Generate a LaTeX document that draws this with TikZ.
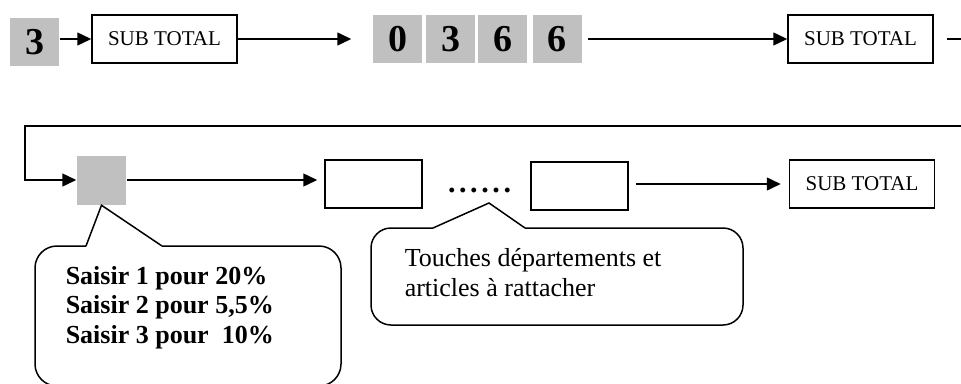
\documentclass[tikz,border=0pt]{standalone}
\usepackage{fontspec}
\setmainfont{Liberation Serif}
\usetikzlibrary{arrows.meta}
\definecolor{keygray}{RGB}{192,192,192}
\newcommand{\sepdots}{.\kern3.6pt.\kern3.6pt.\kern3.6pt.\kern3.6pt.\kern3.6pt.}

\begin{document}
\begin{tikzpicture}[x=1pt,y=-1pt,line width=1.5pt,
	keybox/.style={fill=keygray, minimum width=49pt, minimum height=48pt, inner sep=0pt, font=\fontsize{38}{42}\selectfont\bfseries},
	totalbox/.style={draw, minimum width=145pt, minimum height=48pt, inner sep=0pt, font=\fontsize{21}{25}\selectfont},
	emptybox/.style={draw, minimum width=97pt, minimum height=48pt, inner sep=0pt},
	arr/.style={-{Triangle[length=14pt,width=13pt]}},
	bubbletext/.style={anchor=west, align=left, inner sep=0pt}]
		\useasboundingbox (0,0) rectangle (961,383);
		% first line of keys
		\node (three) [keybox] at (34.5,42) {3};
		\node (st1) [totalbox] at (164.5,39) {SUB TOTAL};
		\node (d0) [keybox] at (397.5,39) {0};
		\node (d3) [keybox, node distance = 53pt] [right of = d0] {3};
		\node (d6a) [keybox, node distance = 52pt] [right of = d3] {6};
		\node (d6b) [keybox, node distance = 54.5pt] [right of = d6a] {6};
		\node (st2) [totalbox] at (860.5,39) {SUB TOTAL};
		\coordinate (out) at (961,39);
		\draw[arr] (three.east |- st1.west) -- (st1.west);
		\draw[arr, shorten >=21pt] (st1.east) -- (st1.east -| d0.west);
		\draw[arr, shorten <=6pt] (d6b.east |- st2.west) -- (st2.west);
		\draw[shorten <=13pt] (st2.east) -- (out);
		
		% second line of keys
		\coordinate (ret) at (961,126);
		\coordinate (bend) at (25,126);
		\node (tva) [keybox, minimum height=49pt] at (101.5,180) {};
		\node (dep1) [emptybox] at (373.5,184) {};
		\node (dots) [font=\fontsize{30}{34}\selectfont\bfseries] at (479.5,190) {\sepdots};
		\node (dep2) [emptybox] at (579.5,186) {};
		\node (st3) [totalbox] at (862,184) {SUB TOTAL};
		\draw[arr] (ret) -- (bend) |- (tva.west);
		\draw[arr, shorten >=7pt] (tva.east) -- (tva.east -| dep1.west);
		\draw[arr, shorten <=7pt, shorten >=8pt] (dep2.east |- st3.west) -- (st3.west);
		
		% bubbles
		\node (rates) [bubbletext, font=\fontsize{26}{29.5}\selectfont\bfseries] at (65,307.5) {Saisir 1 pour 20\%\\Saisir 2 pour 5,5\%\\Saisir 3 pour \ 10\%};
		\draw[rounded corners=22pt] (162,246) -- (341,246) -- (341,386) -- (35,386) -- (35,246) -- (86,246);
		\draw (86,246) -- (tva.south) -- (162,246);
		
		\coordinate (hint) at (489,203);
		\node (keys) [bubbletext, font=\fontsize{26}{30}\selectfont] at (404,273) {Touches départements et\\articles à rattacher};
		\draw[rounded corners=20pt] (525,228) -- (743,228) -- (743,325) -- (371,325) -- (371,228) -- (433,228);
		\draw (433,228) -- (hint) -- (525,228);
		
		
\end{tikzpicture}
\end{document}
